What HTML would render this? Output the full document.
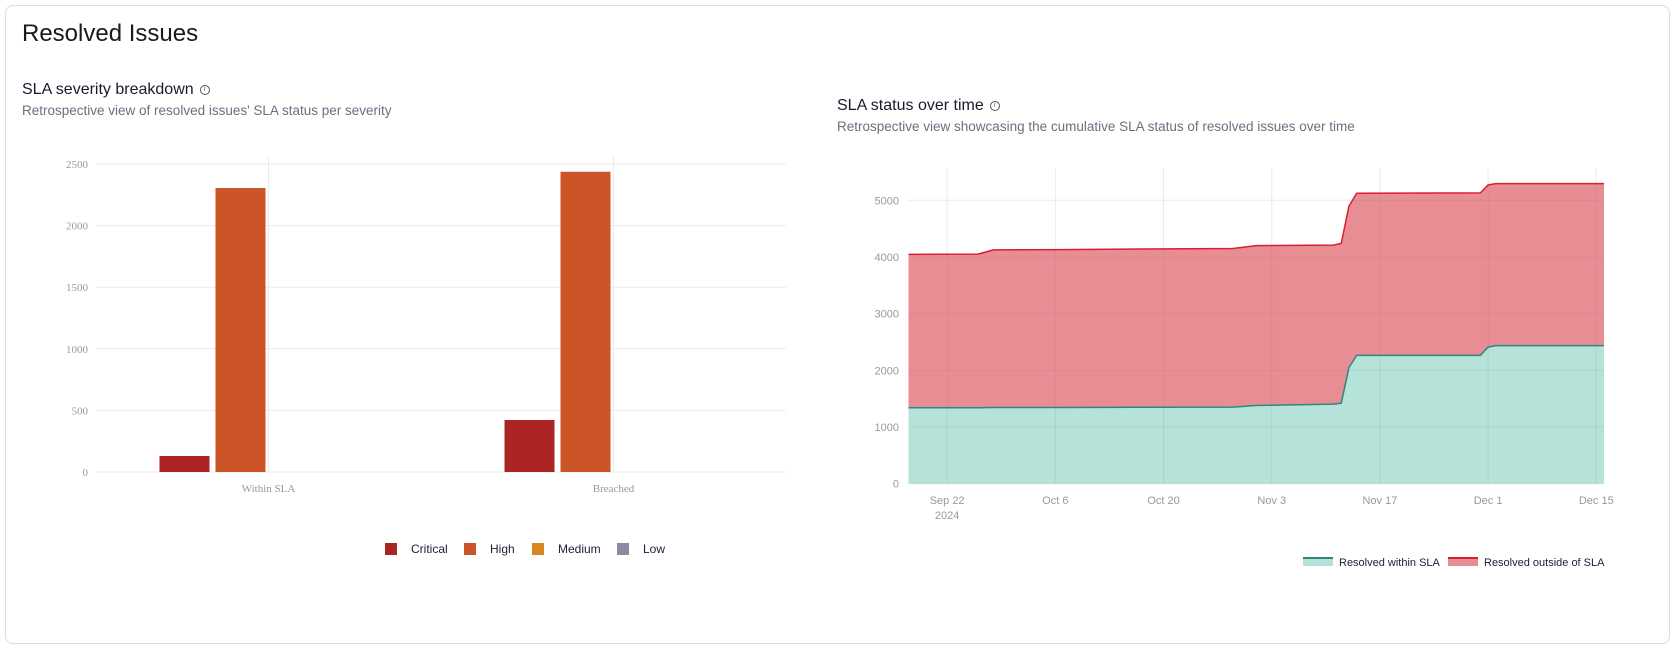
<!DOCTYPE html>
<html><head><meta charset="utf-8"><style>
body{margin:0;width:1675px;height:647px;background:#fff;font-family:"Liberation Sans",sans-serif;overflow:hidden;position:relative}
.card{position:absolute;left:5px;top:5px;width:1663px;height:637px;border:1px solid #dcdce0;border-radius:8px}
.t{position:absolute;white-space:nowrap}
.info{display:inline-block;width:8px;height:8px;border:1px solid #555;border-radius:50%;font-size:7px;line-height:8px;text-align:center;vertical-align:3px;margin-left:6px;color:#555}
svg{position:absolute;left:0;top:0}
</style></head><body>
<div class="card"></div>
<div class="t" style="left:22px;top:20px;font-size:24px;color:#1a1a1a">Resolved Issues</div>
<div class="t" style="left:22px;top:81px;font-size:16px;color:#1a1a2e">SLA severity breakdown<span class="info">i</span></div>
<div class="t" style="left:22px;top:103px;font-size:13.5px;color:#6e6e80">Retrospective view of resolved issues' SLA status per severity</div>
<div class="t" style="left:837px;top:97px;font-size:16px;color:#1a1a2e">SLA status over time<span class="info">i</span></div>
<div class="t" style="left:837px;top:119px;font-size:13.5px;color:#6e6e80">Retrospective view showcasing the cumulative SLA status of resolved issues over time</div>
<svg id="c" width="1675" height="647"></svg>
<script>
// Bar chart data
const barCategories=["Within SLA","Breached"];
const severities=["Critical","High","Medium","Low"];
const sevColors=["#aa2424","#cb5526","#d88622","#8a8aa0"];
const critical=[130,422];
const high=[2305,2437];
const medium=[0,0];
const low=[0,0];
const barTicks=[0,500,1000,1500,2000,2500];
// Area chart data (day offsets from Sep 17 2024)
const areaDays=[0,9,11,20,30,42,45,55,56,57,58,74,75,76,90];
const withinSLA=[1340,1340,1345,1345,1348,1350,1380,1405,1420,2050,2265,2265,2410,2435,2435];
const totalResolved=[4045,4050,4125,4130,4140,4150,4200,4210,4240,4900,5125,5130,5270,5295,5295];
const areaTicks=[0,1000,2000,3000,4000,5000];
const dateLabels=["Sep 22","Oct 6","Oct 20","Nov 3","Nov 17","Dec 1","Dec 15"];
const dateLabelDays=[5,19,33,47,61,75,89];

const svg=document.getElementById('c');const NS='http://www.w3.org/2000/svg';
function el(tag,attrs,parent){const e=document.createElementNS(NS,tag);for(const k in attrs)e.setAttribute(k,attrs[k]);(parent||svg).appendChild(e);return e;}

// ---- bar chart
const bx0=96,bx1=786,by0=472,by1=164;
const yB=v=>by0-(v-0)/(2500)*(by0-by1);
const band=(bx1-bx0)/barCategories.length;
const xC=i=>bx0+band*(i+0.5);
barTicks.forEach(v=>{
  const l=el('line',{x1:bx0,x2:bx1,y1:yB(v),y2:yB(v),stroke:'#ebebeb','stroke-width':1});
  
  const t=el('text',{x:88,y:yB(v)+4,'text-anchor':'end','font-size':11,fill:'#999','font-family':'Liberation Serif, serif'});
  t.textContent=v;
});
const series=[critical,high,medium,low];
barCategories.forEach((c,i)=>{
  const g=el('line',{x1:xC(i),x2:xC(i),y1:156,y2:by0,stroke:'#ebebeb'});
  
  const t=el('text',{x:xC(i),y:492,'text-anchor':'middle','font-size':11,fill:'#999','font-family':'Liberation Serif, serif'});
  t.textContent=c;
  const bw=50,gap=6,start=xC(i)-(4*bw+3*gap)/2;
  series.forEach((s,j)=>{
    if(s[i]<=0)return;
    const r=el('rect',{x:start+j*(bw+gap),y:yB(s[i]),width:bw,height:by0-yB(s[i]),fill:sevColors[j]});
    
    
  });
});
const legX=[385,464,532,617];
severities.forEach((s,j)=>{
  const r=el('rect',{x:legX[j],y:543,width:12,height:12,fill:sevColors[j]});
  
  const t=el('text',{x:legX[j]+26,y:553,'font-size':12,fill:'#1c1c3a'});
  t.textContent=s;
});

// ---- area chart
const ax0=908.5,ax1=1604,ay0=483.7,ay1=200.3;
const xA=d=>ax0+d/90*(ax1-ax0);
const yA=v=>ay0-v/5000*(ay0-ay1);
function pts(arr){return areaDays.map((d,i)=>xA(d)+','+yA(arr[i])).join(' ');}
const redA=el('polygon',{points:pts(totalResolved)+' '+areaDays.slice().reverse().map((d,k)=>xA(d)+','+yA(withinSLA[areaDays.length-1-k])).join(' '),fill:'#e98d95'});

const tealA=el('polygon',{points:pts(withinSLA)+' '+xA(90)+','+ay0+' '+xA(0)+','+ay0,fill:'#b5e3da'});

areaTicks.forEach(v=>{
  const l=el('line',{x1:ax0,x2:ax1,y1:yA(v),y2:yA(v),stroke:'rgba(120,120,120,0.15)'});
  
  const t=el('text',{x:899,y:yA(v)+4,'text-anchor':'end','font-size':11,fill:'#999'});
  t.textContent=v;
});
dateLabels.forEach((s,i)=>{
  const x=xA(dateLabelDays[i]);
  const l=el('line',{x1:x,x2:x,y1:168,y2:ay0,stroke:'rgba(120,120,120,0.15)'});
  
  const t=el('text',{x:x,y:504,'text-anchor':'middle','font-size':11,fill:'#999'});
  t.textContent=s;
});
const yr=el('text',{x:xA(5),y:519,'text-anchor':'middle','font-size':11,fill:'#999'});yr.textContent='2024';

const lr=el('polyline',{points:pts(totalResolved),fill:'none',stroke:'#d81f30','stroke-width':1.5});

const lt=el('polyline',{points:pts(withinSLA),fill:'none',stroke:'#2b8a7a','stroke-width':1.5});

// legend
[[1303,'#b5e3da','#2b8a7a','Resolved within SLA','within'],[1448,'#e98d95','#d81f30','Resolved outside of SLA','outside']].forEach(a=>{
  const r=el('rect',{x:a[0],y:558,width:30,height:8,fill:a[1]});
  
  const l=el('line',{x1:a[0],x2:a[0]+30,y1:558,y2:558,stroke:a[2],'stroke-width':2});
  
  const t=el('text',{x:a[0]+36,y:566,'font-size':11,fill:'#1c1c3a'});t.textContent=a[3];
  
});
</script>
</body></html>
